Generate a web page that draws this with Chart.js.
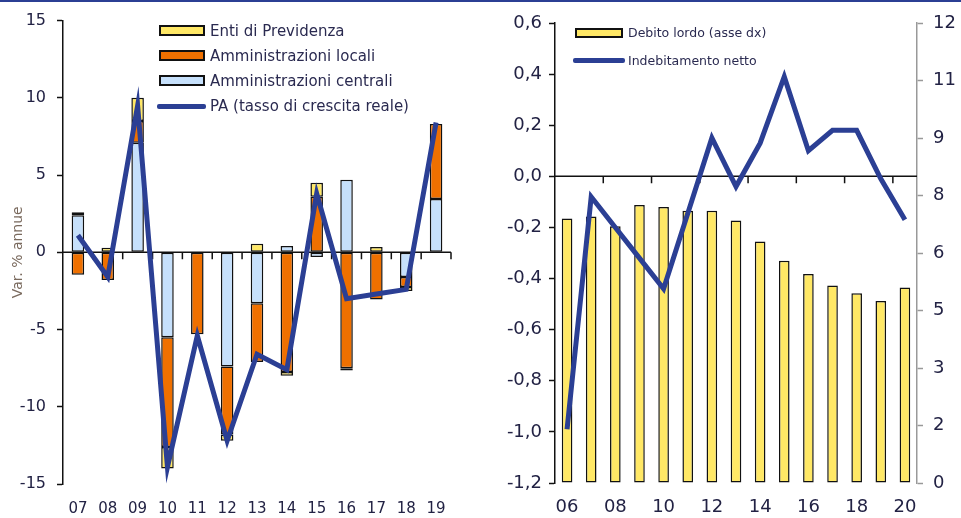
<!DOCTYPE html>
<html><head><meta charset="utf-8">
<script src="https://cdn.jsdelivr.net/npm/chart.js@4.4.1/dist/chart.umd.min.js"></script>
<style>
body{margin:0;background:#fff;width:961px;height:518px;overflow:hidden;position:relative;font-family:"DejaVu Sans",Verdana,sans-serif;}
#topline{position:absolute;left:0;top:0;width:961px;height:2px;background:#2b3f94;z-index:5;}
#w1{position:absolute;left:0;top:0;width:480px;height:518px;}
#w2{position:absolute;left:480px;top:0;width:481px;height:518px;}
.box{position:absolute;box-sizing:border-box;border:2px solid #111;}
.ln{position:absolute;height:5px;background:#2b3f94;border-radius:2px;}
.txt{position:absolute;color:#2a2a50;white-space:nowrap;line-height:1;transform:translateY(-50%);}
.t1{font-size:15px;}
.t2{font-size:12.5px;}
</style>
</head><body>
<div id="topline"></div>
<div id="w1"><canvas id="c1" width="480" height="518"></canvas></div>
<div id="w2"><canvas id="c2" width="481" height="518"></canvas></div>

<div class="box" style="left:159px;top:25px;width:46px;height:11px;background:#ffe866"></div>
<div class="txt t1" style="left:210px;top:31px">Enti di Previdenza</div>
<div class="box" style="left:159px;top:50px;width:46px;height:11px;background:#ef7000"></div>
<div class="txt t1" style="left:210px;top:56px">Amministrazioni locali</div>
<div class="box" style="left:159px;top:75px;width:46px;height:11px;background:#c6e0fb"></div>
<div class="txt t1" style="left:210px;top:81px">Amministrazioni centrali</div>
<div class="ln" style="left:157px;top:104px;width:49px"></div>
<div class="txt t1" style="left:210px;top:106px">PA (tasso di crescita reale)</div>

<div class="box" style="left:575px;top:28px;width:48px;height:10px;background:#ffe866"></div>
<div class="txt t2" style="left:628px;top:33px">Debito lordo (asse dx)</div>
<div class="ln" style="left:573px;top:58px;width:52px"></div>
<div class="txt t2" style="left:628px;top:61px">Indebitamento netto</div>

<script>
// ---- Left chart data ----
const leftYears = ['07','08','09','10','11','12','13','14','15','16','17','18','19'];
const centrali  = [2.4, null, 7.1, -5.5, null, -7.4, -3.3, 0.4, -0.3, 4.7, null, -1.6, 3.45];
const locali    = [-1.45, -1.8, 1.4, -7.1, -5.3, -4.4, -3.8, -7.75, 3.6, -7.5, -3.05, -0.65, 4.85];
const enti      = [0.2, 0.3, 1.5, -1.4, null, -0.4, 0.55, -0.25, 0.9, -0.15, 0.35, -0.25, null];
const paGrowth  = [1.1, -1.6, 9.5, -13.9, -5.4, -12.2, -6.6, -7.6, 3.8, -3.0, -2.7, -2.4, 8.4];
const leftTicks = [-15, -10, -5, 0, 5, 10, 15];

// ---- Right chart data ----
const rightYears = ['06','07','08','09','10','11','12','13','14','15','16','17','18','19','20'];
const debitoLordo = [6.9, 6.95, 6.7, 7.25, 7.2, 7.1, 7.1, 6.85, 6.3, 5.8, 5.45, 5.15, 4.95, 4.75, 5.1];
const indebNetto  = [-0.99, -0.08, -0.2, -0.32, -0.44, -0.145, 0.15, -0.04, 0.13, 0.39, 0.10, 0.18, 0.18, -0.01, -0.17];
const rightLeftTicks = [-1.2, -1.0, -0.8, -0.6, -0.4, -0.2, 0.0, 0.2, 0.4, 0.6];
const rightRightTicks = [0, 1.5, 3, 4.5, 6, 7.5, 9, 10.5, 12];

Chart.defaults.font.family = '"DejaVu Sans", Verdana, sans-serif';
Chart.defaults.color = '#222244';
Chart.defaults.animation = false;

const BLUE = '#2b3f94', YEL = '#ffe866', ORA = '#ef7000', LBL = '#c6e0fb';

const zeroLine = {
  id: 'zeroLine',
  beforeDatasetsDraw(chart, args, opts) {
    const xs = chart.scales.x, ys = chart.scales[opts.yId];
    const ca = chart.chartArea, ctx = chart.ctx;
    const y0 = ys.getPixelForValue(0);
    ctx.save();
    ctx.strokeStyle = '#111';
    ctx.lineWidth = 1.5;
    ctx.beginPath();
    ctx.moveTo(ca.left, y0); ctx.lineTo(ca.right, y0);
    for (let b = opts.first; b <= chart.data.labels.length - 0.5; b += opts.every) {
      const px = xs.getPixelForValue(b);
      ctx.moveTo(px, y0); ctx.lineTo(px, y0 + 7);
    }
    ctx.stroke();
    ctx.restore();
  }
};

// ---------- Left chart ----------
new Chart(document.getElementById('c1'), {
  type: 'bar',
  data: {
    labels: leftYears,
    datasets: [
      {type:'line', label:'PA (tasso di crescita reale)', data: paGrowth, borderColor: BLUE, borderWidth: 5,
       pointRadius: 0, tension: 0, order: 0, yAxisID: 'y'},
      {label:'Amministrazioni centrali', data: centrali, backgroundColor: LBL, borderColor:'#111', borderWidth:1.5, borderSkipped:false, order:1, stack:'s'},
      {label:'Amministrazioni locali', data: locali, backgroundColor: ORA, borderColor:'#111', borderWidth:1.5, borderSkipped:false, order:1, stack:'s'},
      {label:'Enti di Previdenza', data: enti, backgroundColor: YEL, borderColor:'#111', borderWidth:1.5, borderSkipped:false, order:1, stack:'s'}
    ]
  },
  options: {
    responsive: false,
    layout: {padding: {top: 19, right: 29, left: 0, bottom: 0}},
    datasets: {bar: {categoryPercentage: 1, barPercentage: 0.42}},
    plugins: {legend: {display: false}, tooltip: {enabled: false}, zeroLine: {yId: 'y', first: 0.5, every: 1}},
    scales: {
      x: {
        stacked: true,
        grid: {display: false, drawTicks: false},
        border: {display: false},
        ticks: {autoSkip: false, maxRotation: 0, padding: 16, font: {size: 15}, color: '#222244'},
        afterFit(s) { s.height = 34; }
      },
      y: {
        stacked: true,
        min: -15, max: 15,
        afterBuildTicks(s) { s.ticks = leftTicks.map(v => ({value: v})); },
        grid: {display: true, drawOnChartArea: false, drawTicks: true, tickLength: 6, tickColor: '#111', tickWidth: 1.5},
        border: {display: true, color: '#111', width: 1.5},
        ticks: {padding: 11, font: {size: 16}, color: '#222244'},
        title: {display: true, text: 'Var. % annue', color: '#7a6a5e', font: {size: 14}, padding: {top: 10, bottom: 0}},
        afterFit(s) { s.width = 63; }
      }
    }
  },
  plugins: [zeroLine]
});

// ---------- Right chart ----------
new Chart(document.getElementById('c2'), {
  type: 'bar',
  data: {
    labels: rightYears,
    datasets: [
      {type:'line', label:'Indebitamento netto', data: indebNetto, borderColor: BLUE, borderWidth: 5,
       pointRadius: 0, tension: 0, order: 0, yAxisID: 'y'},
      {label:'Debito lordo (asse dx)', data: debitoLordo, backgroundColor: YEL, borderColor:'#111', borderWidth:1.5,
       borderSkipped:false, order:1, yAxisID: 'y1'}
    ]
  },
  options: {
    responsive: false,
    layout: {padding: {top: 23, right: 0, left: 0, bottom: 0}},
    datasets: {bar: {categoryPercentage: 1, barPercentage: 0.44}},
    plugins: {legend: {display: false}, tooltip: {enabled: false}, zeroLine: {yId: 'y', first: 1.5, every: 2}},
    scales: {
      x: {
        grid: {display: false, drawTicks: false},
        border: {display: false},
        ticks: {autoSkip: false, maxRotation: 0, padding: 14, font: {size: 18}, color: '#222244',
                callback: (v, i) => (i % 2 === 0 ? rightYears[i] : '')},
        afterFit(s) { s.height = 35; }
      },
      y: {
        position: 'left',
        min: -1.2, max: 0.6,
        afterBuildTicks(s) { s.ticks = rightLeftTicks.map(v => ({value: v})); },
        grid: {display: true, drawOnChartArea: false, drawTicks: true, tickLength: 6, tickColor: '#111', tickWidth: 1.5},
        border: {display: true, color: '#111', width: 1.5},
        ticks: {padding: 7, font: {size: 18}, color: '#222244',
                callback: v => (Math.abs(v) < 1e-9 ? 0 : v).toFixed(1).replace('.', ',')},
        afterFit(s) { s.width = 75; }
      },
      y1: {
        position: 'right',
        min: 0, max: 12,
        afterBuildTicks(s) { s.ticks = rightRightTicks.map(v => ({value: v})); },
        grid: {display: true, drawOnChartArea: false, drawTicks: true, tickLength: 6, tickColor: '#999', tickWidth: 1.5},
        border: {display: true, color: '#999', width: 1.5},
        ticks: {padding: 10, font: {size: 18}, color: '#222244', callback: v => String(Math.round(v))},
        afterFit(s) { s.width = 44; }
      }
    }
  },
  plugins: [zeroLine]
});
</script>
</body></html>
